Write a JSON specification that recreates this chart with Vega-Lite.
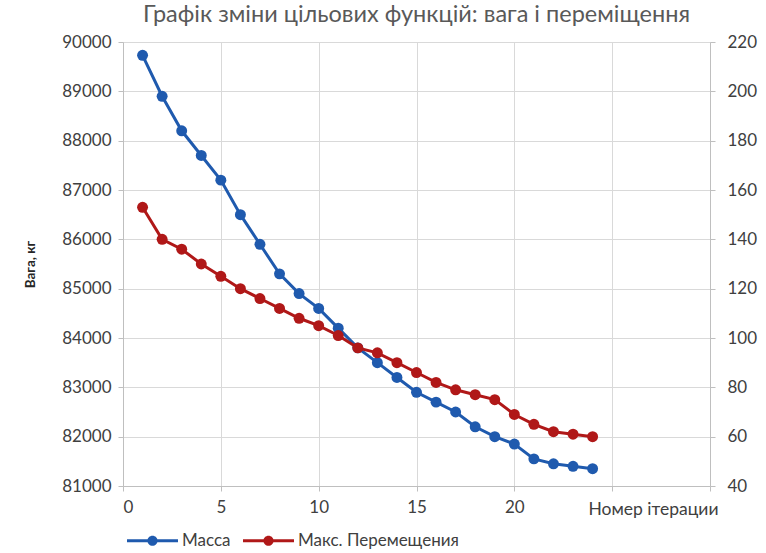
{
  "$schema": "https://vega.github.io/schema/vega-lite/v6.json",
  "autosize": {"type": "none"},
  "width": 587,
  "height": 444,
  "padding": {"left": 123, "top": 42, "right": 56, "bottom": 67},
  "background": "white",
  "config": {
    "font": "Lato",
    "view": {"stroke": null},
    "axis": {
      "labelFont": "Lato",
      "labelFontSize": 17,
      "labelColor": "#404040",
      "domainColor": "#BFBFBF",
      "tickColor": "#BFBFBF",
      "gridColor": "#D9D9D9",
      "tickSize": 5
    }
  },
  "title": {
    "text": "Графік зміни цільових функцій: вага і переміщення",
    "font": "Lato",
    "fontSize": 23.5,
    "fontWeight": "normal",
    "color": "#595959",
    "anchor": "middle",
    "offset": 7
  },
  "data": {
    "values": [
      {"iter": 1, "mass": 89730, "disp": 153},
      {"iter": 2, "mass": 88900, "disp": 140},
      {"iter": 3, "mass": 88200, "disp": 136},
      {"iter": 4, "mass": 87700, "disp": 130},
      {"iter": 5, "mass": 87200, "disp": 125},
      {"iter": 6, "mass": 86500, "disp": 120},
      {"iter": 7, "mass": 85900, "disp": 116},
      {"iter": 8, "mass": 85300, "disp": 112},
      {"iter": 9, "mass": 84900, "disp": 108},
      {"iter": 10, "mass": 84600, "disp": 105},
      {"iter": 11, "mass": 84200, "disp": 101},
      {"iter": 12, "mass": 83800, "disp": 96},
      {"iter": 13, "mass": 83500, "disp": 94},
      {"iter": 14, "mass": 83200, "disp": 90},
      {"iter": 15, "mass": 82900, "disp": 86},
      {"iter": 16, "mass": 82700, "disp": 82},
      {"iter": 17, "mass": 82500, "disp": 79},
      {"iter": 18, "mass": 82200, "disp": 77},
      {"iter": 19, "mass": 82000, "disp": 75},
      {"iter": 20, "mass": 81850, "disp": 69},
      {"iter": 21, "mass": 81550, "disp": 65},
      {"iter": 22, "mass": 81450, "disp": 62},
      {"iter": 23, "mass": 81400, "disp": 61},
      {"iter": 24, "mass": 81350, "disp": 60}
    ]
  },
  "encoding": {
    "x": {
      "field": "iter",
      "type": "quantitative",
      "scale": {"domain": [0, 30], "nice": false},
      "axis": {
        "values": [0, 5, 10, 15, 20, 25, 30],
        "labelExpr": "datum.value <= 20 ? datum.label : ''",
        "title": "Номер ітерации",
        "titleFont": "Lato",
        "titleFontSize": 17.5,
        "titleFontWeight": "normal",
        "titleColor": "#404040",
        "titleX": 530,
        "titleY": 23,
        "titleAlign": "center",
        "titleBaseline": "middle",
        "labelPadding": 8,
        "grid": true
      }
    }
  },
  "layer": [
    {
      "mark": {"type": "line", "strokeWidth": 3, "point": {"filled": true, "size": 120}},
      "encoding": {
        "y": {
          "field": "mass",
          "type": "quantitative",
          "scale": {"domain": [81000, 90000], "nice": false, "zero": false},
          "axis": {
            "orient": "left",
            "values": [81000, 82000, 83000, 84000, 85000, 86000, 87000, 88000, 89000, 90000],
            "format": "d",
            "labelPadding": 7,
            "title": "Вага, кг",
            "titleFont": "Lato",
            "titleFontSize": 13.5,
            "titleFontWeight": "bold",
            "titleColor": "#262626",
            "titlePadding": 24,
            "grid": true
          }
        },
        "color": {
          "datum": "Масса",
          "type": "nominal",
          "scale": {"domain": ["Масса", "Макс. Перемещения"], "range": ["#1F5AAE", "#B01818"]},
          "legend": {
            "title": null,
            "orient": "none",
            "legendX": 4,
            "legendY": 473,
            "direction": "horizontal",
            "labelFont": "Lato",
            "labelFontSize": 17,
            "labelColor": "#404040",
            "labelLimit": 400,
            "symbolType": "M-1,-0.06L1,-0.06L1,0.06L-1,0.06Z M0.2,0A0.2,0.2 0 1,1 -0.2,0A0.2,0.2 0 1,1 0.2,0Z",
            "symbolSize": 2600,
            "symbolStrokeWidth": 0,
            "columnPadding": 12,
            "labelOffset": 4,
            "encode": {
              "symbols": {
                "update": {
                  "fill": {"scale": "color", "field": "value"},
                  "stroke": {"value": "transparent"},
                  "opacity": {"value": 1}
                }
              }
            }
          }
        }
      }
    },
    {
      "mark": {"type": "line", "strokeWidth": 3, "point": {"filled": true, "size": 120}},
      "encoding": {
        "y": {
          "field": "disp",
          "type": "quantitative",
          "scale": {"domain": [40, 220], "nice": false, "zero": false},
          "axis": {
            "orient": "right",
            "values": [40, 60, 80, 100, 120, 140, 160, 180, 200, 220],
            "labelPadding": 12,
            "title": null,
            "grid": false
          }
        },
        "color": {"datum": "Макс. Перемещения", "type": "nominal"}
      }
    }
  ],
  "resolve": {"scale": {"y": "independent"}}
}
